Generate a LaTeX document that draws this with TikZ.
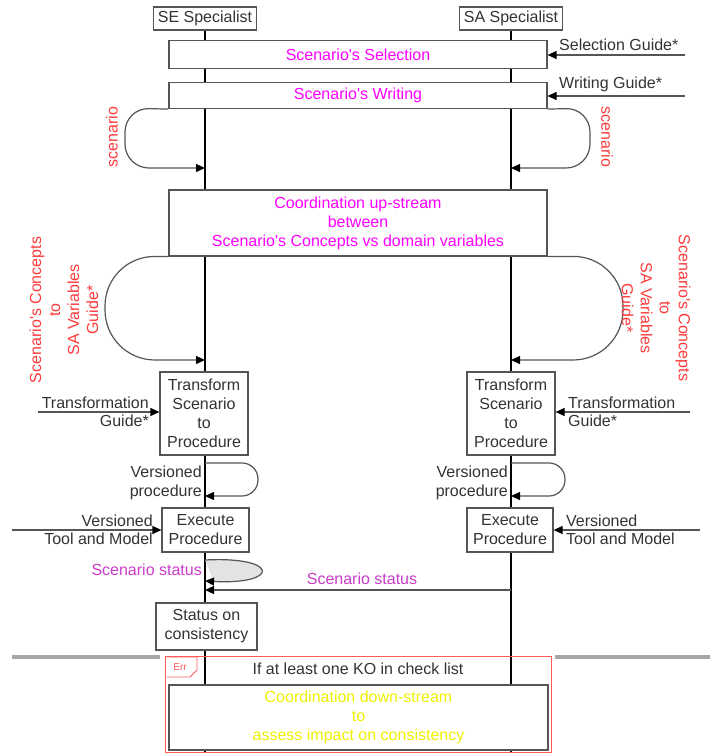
\documentclass[tikz,border=0pt]{standalone}
\usepackage{fontspec}
\setmainfont{Liberation Sans}
\usetikzlibrary{arrows.meta}
\definecolor{ink}{HTML}{333333}
\definecolor{frame}{HTML}{555555}
\definecolor{mag}{HTML}{FF00FF}
\definecolor{lbl}{HTML}{FF3B3B}
\definecolor{stat}{HTML}{C83CC8}
\definecolor{note}{HTML}{F0F000}
\definecolor{frag}{HTML}{FF5A5A}
\newcommand{\ap}{\textquotesingle}
\begin{document}
\begin{tikzpicture}[x=1pt,y=-1pt,
  txt/.style={font=\fontsize{16}{19}\selectfont, text=ink, inner sep=0pt, align=center},
  actor/.style={txt, draw=frame, fill=white, line width=1.2pt, minimum width=103pt, minimum height=23pt},
  wide/.style={txt, text=mag, draw=frame, fill=white, line width=1.2pt, minimum width=378pt},
  act/.style={txt, draw=frame, fill=white, line width=1.2pt},
  red label/.style={txt, text=lbl},
  life/.style={line width=2pt, black},
  flow/.style={draw=frame, line width=1.2pt, -{Triangle[length=9pt,width=8pt,color=black]}},
  ]
\useasboundingbox (0,0) rectangle (710,753);

% lifeline ends and message anchors
\coordinate (seEnd) at (205,753);
\coordinate (saEnd) at (511,753);
\coordinate (sc1) at (205,168);
\coordinate (sc2) at (511,168);
\coordinate (cc1) at (205,360);
\coordinate (cc2) at (511,360);
\coordinate (vp1s) at (205,463);
\coordinate (vp1e) at (205,496);
\coordinate (vp2s) at (511,463);
\coordinate (vp2e) at (511,496);
\coordinate (ss1) at (205,560);
\coordinate (ss2) at (205,581);
\coordinate (msgS) at (511,590);
\coordinate (msgE) at (205,590);
\coordinate (selIn) at (685,55);
\coordinate (wriIn) at (685,96);
\coordinate (tgL) at (38,412);
\coordinate (tgR) at (690,412);
\coordinate (tmL) at (12,530);
\coordinate (tmR) at (700,530);

% actors
\node[actor] (se) at (205,18.5) {SE Specialist};
\node[actor] (sa) at (511,18.5) {SA Specialist};

% lifelines
\draw[life] (se.south) -- (seEnd);
\draw[life] (sa.south) -- (saEnd);

% combined fragment band
\draw[line width=4pt, gray!70] (12,657) -- (160,657);
\draw[line width=4pt, gray!70] (555,657) -- (710,657);

% shared activities
\node[wide, minimum height=28pt] (sel) at (358,54.5) {Scenario\ap s Selection};
\node[wide, minimum height=26pt] (wri) at (358,95.5) {Scenario\ap s Writing};
\node[wide, minimum height=66pt] (up) at (358,223)
  {Coordination up-stream\\between\\Scenario\ap s Concepts vs domain variables};

% guide inputs
\draw[flow] (selIn) -- (sel.east |- selIn);
\node[txt, anchor=south west] at (559,51) {Selection Guide*};
\draw[flow] (wriIn) -- (wri.east |- wriIn);
\node[txt, anchor=south west] at (559,92) {Writing Guide*};

% scenario hand-off loops
\draw[flow, rounded corners=24pt] (wri.south west) -- (125,108) -- (125,168) -- (sc1);
\draw[flow, rounded corners=24pt] (wri.south east) -- (590,108) -- (590,168) -- (sc2);
\node[red label, rotate=90] at (112,137) {scenario};
\node[red label, rotate=-90] at (607,137) {scenario};

% concept mapping loops
\draw[flow, rounded corners=50pt] (up.south west) -- (105,256) -- (105,360) -- (cc1);
\draw[flow, rounded corners=50pt] (up.south east) -- (623,256) -- (623,360) -- (cc2);
\node[red label, rotate=90] at (64,310) {Scenario\ap s Concepts\\to\\SA Variables\\Guide*};
\node[red label, rotate=-90] at (656,308) {Scenario\ap s Concepts\\to\\SA Variables\\Guide*};

% transformation
\node[act, minimum width=88pt, minimum height=83pt] (tr1) at (204,413.5)
  {Transform\\Scenario\\to\\Procedure};
\node[act, minimum width=88pt, minimum height=83pt] (tr2) at (511,413.5)
  {Transform\\Scenario\\to\\Procedure};
\draw[flow] (tgL) -- (tr1.west |- tgL);
\node[txt, anchor=south east] at (149,409) {Transformation};
\node[txt, anchor=north east] at (149,415) {Guide*};
\draw[flow] (tgR) -- (tr2.east |- tgR);
\node[txt, anchor=south west] at (568,409) {Transformation};
\node[txt, anchor=north west] at (568,415) {Guide*};

% versioned procedure self-messages
\draw[flow, rounded corners=16pt] (vp1s) -- (258,463) -- (258,496) -- (vp1e);
\draw[flow, rounded corners=16pt] (vp2s) -- (565,463) -- (565,496) -- (vp2e);
\node[txt, align=right, anchor=east] at (202,483) {Versioned\\procedure};
\node[txt, align=right, anchor=east] at (508,483) {Versioned\\procedure};

% execution
\node[act, minimum width=87pt, minimum height=44pt] (ex1) at (205.5,530) {Execute\\Procedure};
\node[act, minimum width=86pt, minimum height=44pt] (ex2) at (510,530) {Execute\\Procedure};
\draw[flow] (tmL) -- (ex1.west |- tmL);
\node[txt, anchor=south east] at (153,527) {Versioned};
\node[txt, anchor=north east] at (153,533) {Tool and Model};
\draw[flow] (tmR) -- (ex2.east |- tmR);
\node[txt, anchor=south west] at (566,527) {Versioned};
\node[txt, anchor=north west] at (566,533) {Tool and Model};

% scenario status
\draw[flow, fill=gray!22] (ss1) .. controls (280,556) and (280,585) .. (ss2);
\node[txt, text=stat, anchor=east] at (202,570) {Scenario status};
\draw[flow] (msgS) -- (msgE);
\node[txt, text=stat] at (362,579) {Scenario status};

% consistency status
\node[act, minimum width=101pt, minimum height=47pt] (st) at (206.5,626.5) {Status on\\consistency};

% combined fragment
\draw[frag, line width=1pt] (165,656) rectangle (551,752);
\draw[frag, line width=0.8pt] (167,657) -- (197,657) -- (197,670) -- (190,677) -- (167,677);
\node[txt, text=frag, font=\fontsize{10}{11}\selectfont] (tag) at (180,667) {Err};
\node[txt] (guard) at (358,669) {If at least one KO in check list};
\node[act, text=note, minimum width=379pt, minimum height=65pt] (down) at (358.5,717.5)
  {Coordination down-stream\\to\\assess impact on consistency};
\end{tikzpicture}
\end{document}
